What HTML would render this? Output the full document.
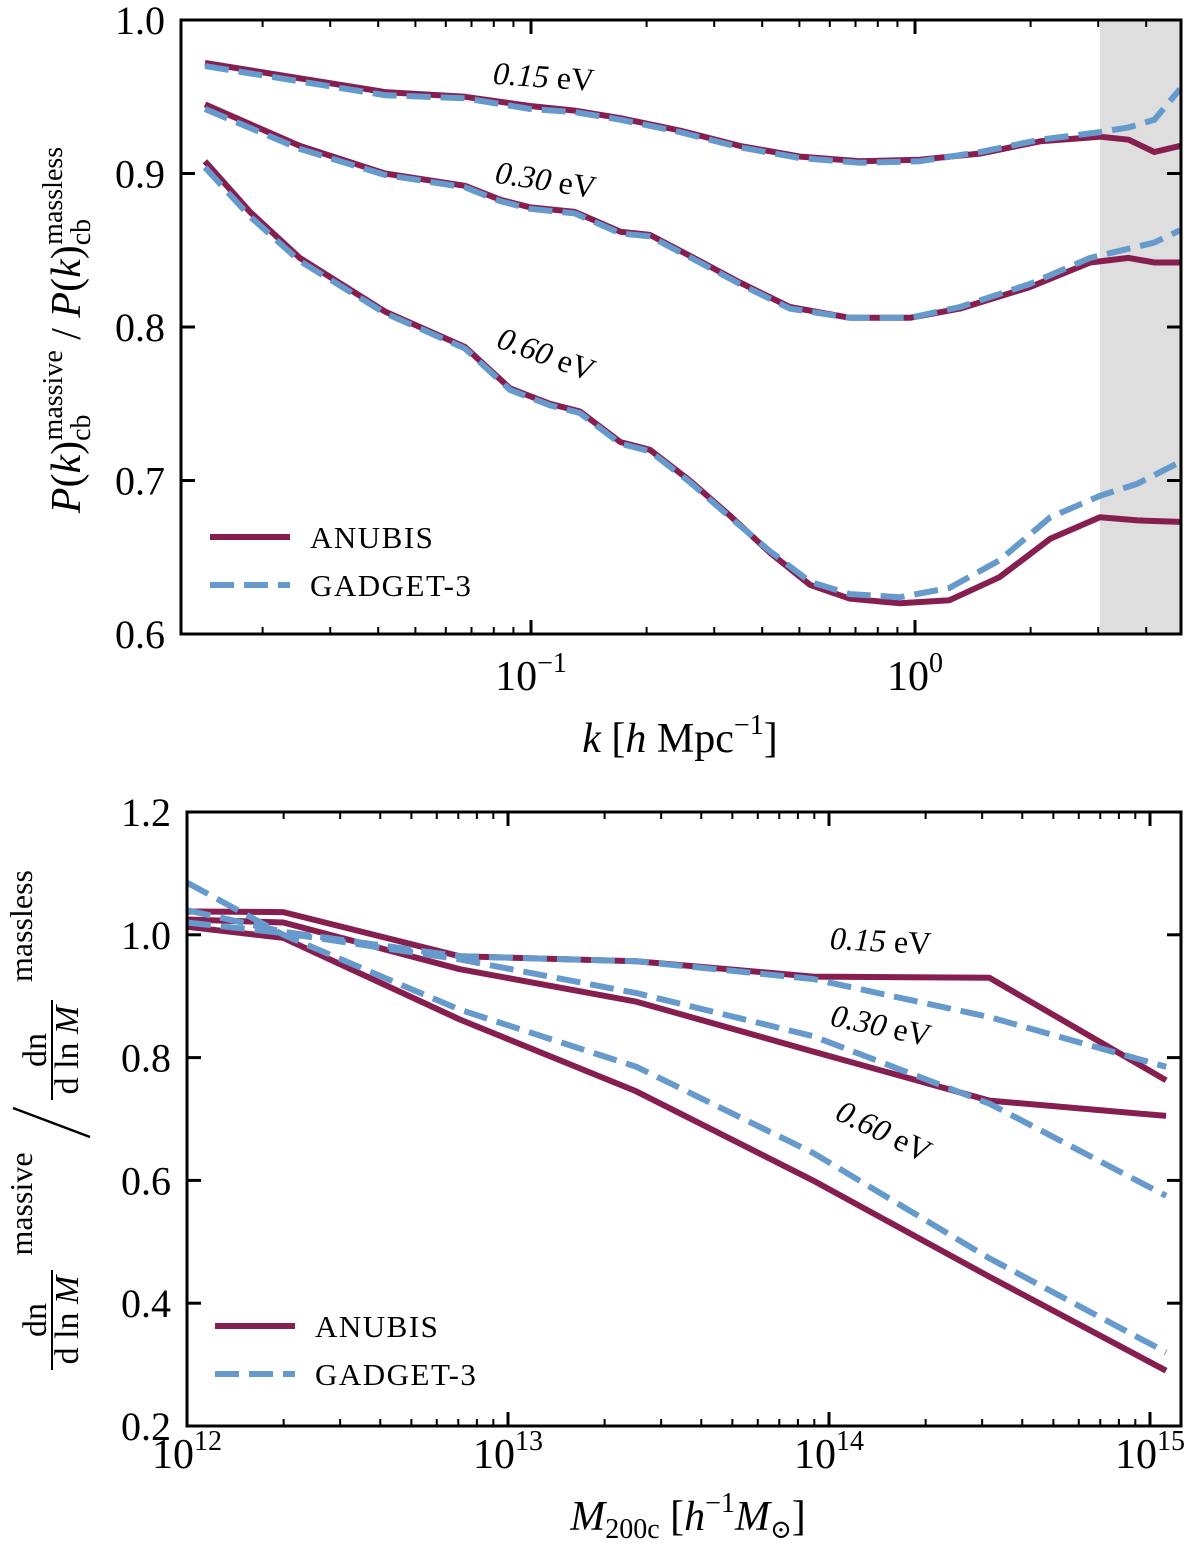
<!DOCTYPE html>
<html><head><meta charset="utf-8"><style>
html,body{margin:0;padding:0;background:#fff;}
svg{display:block;font-family:"Liberation Serif","DejaVu Serif",serif;}
</style></head><body>
<svg id="fig" width="1200" height="1565" viewBox="0 0 1200 1565" xmlns="http://www.w3.org/2000/svg">
<g id="topPanel"></g>
<g id="botPanel"></g>
</svg>
<script>
// ---- top panel data (P(k) ratio) ----
const kA15 = [0.01416,0.025,0.0417,0.0673,0.0994,0.130,0.171,0.244,0.350,0.502,0.719,1.03,1.48,2.12,3.03,3.6,4.2,4.9];
const vA15 = [0.972,0.962,0.953,0.950,0.944,0.941,0.936,0.928,0.918,0.911,0.908,0.909,0.913,0.921,0.924,0.922,0.914,0.918];
const vG15 = [0.970,0.960,0.951,0.949,0.942,0.940,0.935,0.927,0.917,0.910,0.907,0.908,0.914,0.922,0.927,0.930,0.935,0.955];
const kA30 = [0.01416,0.025,0.0417,0.0673,0.083,0.0994,0.130,0.171,0.204,0.275,0.350,0.472,0.677,0.970,1.31,1.99,2.86,3.6,4.2,4.9];
const vA30 = [0.945,0.918,0.900,0.892,0.883,0.878,0.875,0.862,0.860,0.843,0.829,0.813,0.806,0.806,0.812,0.826,0.842,0.845,0.842,0.842];
const vG30 = [0.942,0.916,0.899,0.891,0.882,0.877,0.874,0.861,0.859,0.842,0.828,0.812,0.806,0.806,0.813,0.828,0.845,0.851,0.855,0.863];
const kA60 = [0.01416,0.01854,0.025,0.0417,0.0673,0.0882,0.112,0.134,0.171,0.204,0.259,0.330,0.419,0.533,0.677,0.914,1.23,1.66,2.25,3.03,3.8,4.9];
const vA60 = [0.908,0.875,0.845,0.810,0.787,0.760,0.750,0.745,0.725,0.720,0.700,0.677,0.653,0.632,0.623,0.620,0.622,0.637,0.662,0.676,0.674,0.673];
const vG60 = [0.904,0.872,0.843,0.809,0.786,0.759,0.749,0.744,0.724,0.719,0.699,0.676,0.654,0.634,0.626,0.624,0.630,0.648,0.676,0.690,0.698,0.712];
const topYTicks = [0.6,0.7,0.8,0.9,1.0];
const topXTickExp = [-1,0];
// ---- bottom panel data (HMF ratio) ----
const lgM = [12.0,12.3,12.85,13.4,13.95,14.5,15.05];
const hA15 = [1.038,1.037,0.965,0.957,0.932,0.930,0.763];
const hG15 = [1.040,1.005,0.965,0.957,0.928,0.866,0.785];
const hA30 = [1.025,1.020,0.944,0.891,0.810,0.730,0.705];
const hG30 = [1.020,1.003,0.960,0.905,0.835,0.725,0.575];
const hA60 = [1.013,0.995,0.862,0.745,0.600,0.443,0.290];
const hG60 = [1.085,1.000,0.878,0.785,0.645,0.473,0.320];
const botYTicks = [0.2,0.4,0.6,0.8,1.0,1.2];
const botXTickExp = [12,13,14,15];

const NS="http://www.w3.org/2000/svg";
const RED="#861e50", BLUE="#6699cc";
function mk(tag,attrs,parent){const e=document.createElementNS(NS,tag);for(const k in attrs)e.setAttribute(k,attrs[k]);parent.appendChild(e);return e;}

const T={x0:181,x1:1181,y0:20,y1:634};
const txs=k=>915+384*Math.log10(k);
const tys=v=>634-(v-0.6)/0.4*614;
const B={x0:187,x1:1181,y0:812,y1:1426};
const bxs=l=>187+(l-12)*321;
const bys=v=>1426-(v-0.2)/1.0*614;

const topG=document.getElementById('topPanel'), botG=document.getElementById('botPanel');

const band=mk('rect',{x:txs(3.03),y:T.y0,width:T.x1-txs(3.03),height:T.y1-T.y0,fill:'#dedede'},topG);



function line(parent,xs,ys,color,dash,name){
  const d=xs.map((x,i)=>(i?'L':'M')+x.toFixed(1)+' '+ys[i].toFixed(1)).join(' ');
  const p=mk('path',{d:d,fill:'none',stroke:color,'stroke-width':6,'stroke-linejoin':'round'},parent);
  if(dash)p.setAttribute('stroke-dasharray','24 10');
  
  
}
const topSeries=[[kA15,vA15,vG15,'015'],[kA30,vA30,vG30,'030'],[kA60,vA60,vG60,'060']];
topSeries.forEach(s=>{
  line(topG,s[0].map(txs),s[1].map(tys),RED,false,'anubis-pk-'+s[3]+'ev');
});
topSeries.forEach(s=>{
  line(topG,s[0].map(txs),s[2].map(tys),BLUE,true,'gadget-pk-'+s[3]+'ev');
});
const botSeries=[[hA15,hG15,'015'],[hA30,hG30,'030'],[hA60,hG60,'060']];
botSeries.forEach(s=>{
  line(botG,lgM.map(bxs),s[0].map(bys),RED,false,'anubis-hmf-'+s[2]+'ev');
});
botSeries.forEach(s=>{
  line(botG,lgM.map(bxs),s[1].map(bys),BLUE,true,'gadget-hmf-'+s[2]+'ev');
});

function frame(parent,A,name){
  const r=mk('rect',{x:A.x0,y:A.y0,width:A.x1-A.x0,height:A.y1-A.y0,fill:'none',stroke:'#000','stroke-width':3},parent);
  
  
}
function tick(parent,x1,y1,x2,y2,w){mk('line',{x1:x1,y1:y1,x2:x2,y2:y2,stroke:'#000','stroke-width':w},parent);}
function text(parent,x,y,str,attrs,name){
  const t=mk('text',Object.assign({x:x,y:y,'font-size':40,fill:'#000'},attrs||{}),parent);
  t.textContent=str;
  
  
  return t;
}
topYTicks.forEach(v=>{const y=tys(v);tick(topG,T.x0,y,T.x0+14,y,3);tick(topG,T.x1,y,T.x1-14,y,3);
  text(topG,T.x0-16,y+14,v.toFixed(1),{'text-anchor':'end'},'y-tick-label');});
for(let e=-2;e<=0;e++){for(let m=1;m<10;m++){const k=m*Math.pow(10,e);const x=txs(k);if(x<T.x0||x>T.x1)continue;
  const L=m===1?14:7;tick(topG,x,T.y1,x,T.y1-L,m===1?3:2);tick(topG,x,T.y0,x,T.y0+L,m===1?3:2);}}
topXTickExp.forEach(e=>{const x=txs(Math.pow(10,e));const t=text(topG,x,690,'10',{'text-anchor':'middle','font-size':42},'x-tick-label');
  const s=mk('tspan',{'font-size':28,dy:-18},t);s.textContent=(e<0?'\u2212':'')+Math.abs(e);});
botYTicks.forEach(v=>{const y=bys(v);tick(botG,B.x0,y,B.x0+14,y,3);tick(botG,B.x1,y,B.x1-14,y,3);
  text(botG,B.x0-16,y+14,v.toFixed(1),{'text-anchor':'end'},'y-tick-label');});
for(let e=12;e<=15;e++){for(let m=1;m<10;m++){const x=bxs(e+Math.log10(m));if(x<B.x0||x>B.x1)continue;
  const L=m===1?14:7;tick(botG,x,B.y1,x,B.y1-L,m===1?3:2);tick(botG,x,B.y0,x,B.y0+L,m===1?3:2);}}
botXTickExp.forEach(e=>{const x=bxs(e);const t=text(botG,x,1468,'10',{'text-anchor':'middle','font-size':42},'x-tick-label');
  const s=mk('tspan',{'font-size':28,dy:-18},t);s.textContent=e;});
frame(topG,T,'top-axes-frame');frame(botG,B,'bottom-axes-frame');

function evLabel(parent,x,y,num,rot,name){
  const t=text(parent,x,y,'',{'font-size':32,transform:'rotate('+rot+' '+(x+60)+' '+(y-10)+')'},name);
  t.innerHTML='<tspan font-style="italic">'+num+'</tspan> eV';
}
evLabel(topG,493,88,'0.15',4,'label-015ev');
evLabel(topG,495,192,'0.30',9,'label-030ev');
evLabel(topG,495,368,'0.60',20,'label-060ev');
evLabel(botG,830,952,'0.15',3,'label-015ev');
evLabel(botG,830,1038,'0.30',12,'label-030ev');
evLabel(botG,832,1146,'0.60',26,'label-060ev');

function legend(parent,x,y,name){
  const g=mk('g',{},parent);
  mk('line',{x1:x,y1:y,x2:x+80,y2:y,stroke:RED,'stroke-width':6},g);
  mk('line',{x1:x,y1:y+48,x2:x+80,y2:y+48,stroke:BLUE,'stroke-width':6,'stroke-dasharray':'24 10'},g);
  text(g,x+100,y+11,'ANUBIS',{'font-size':31,'letter-spacing':'1.5'},'legend-anubis');
  text(g,x+100,y+59,'GADGET-3',{'font-size':31,'letter-spacing':'1.5'},'legend-gadget');
}
legend(topG,210,537,'top-legend');
legend(botG,215,1326,'bottom-legend');

const xt=text(topG,680,752,'',{'text-anchor':'middle','font-size':42},'x-axis-title-k');
xt.innerHTML='<tspan font-style="italic">k</tspan> [<tspan font-style="italic">h</tspan> Mpc<tspan font-size="28" dy="-18">\u22121</tspan><tspan dy="18">]</tspan>';
const xb=text(botG,688,1530,'',{'text-anchor':'middle','font-size':42},'x-axis-title-mass');
xb.innerHTML='<tspan font-style="italic">M</tspan><tspan font-size="28" dy="8">200c</tspan><tspan dy="-8"> [</tspan><tspan font-style="italic">h</tspan><tspan font-size="28" dy="-18">\u22121</tspan><tspan dy="18" font-style="italic">M</tspan><tspan font-size="26" dy="8">\u2299</tspan><tspan dy="-8">]</tspan>';
const yt=text(topG,0,0,'',{'text-anchor':'middle','font-size':42,transform:'translate(80 330) rotate(-90)'},'y-axis-title-pk');
yt.innerHTML='<tspan font-style="italic">P</tspan>(<tspan font-style="italic">k</tspan>)<tspan font-size="28" dy="10">cb</tspan><tspan font-size="28" dx="-26" dy="-28">massive</tspan><tspan dy="18"> / </tspan><tspan font-style="italic">P</tspan>(<tspan font-style="italic">k</tspan>)<tspan font-size="28" dy="10">cb</tspan><tspan font-size="28" dx="-26" dy="-28">massless</tspan>';
const yb=mk('g',{},botG);


function frac(cx,cy){
  text(yb,0,0,'dn',{'text-anchor':'middle','font-size':34,transform:'translate('+(cx-4)+' '+cy+') rotate(-90)'},'frac-num');
  mk('line',{x1:cx+2,y1:cy-50,x2:cx+2,y2:cy+50,stroke:'#000','stroke-width':2},yb);
  const d=text(yb,0,0,'',{'text-anchor':'middle','font-size':34,transform:'translate('+(cx+28)+' '+cy+') rotate(-90)'},'frac-den');
  d.innerHTML='d ln <tspan font-style="italic">M</tspan>';
}
frac(50,1320);
text(yb,0,0,'massive',{'text-anchor':'middle','font-size':32,transform:'translate(32 1204) rotate(-90)'},'sup-massive');
mk('line',{x1:13,y1:1108,x2:90,y2:1137,stroke:'#000','stroke-width':2.5},yb);
frac(50,1050);
text(yb,0,0,'massless',{'text-anchor':'middle','font-size':32,transform:'translate(32 926) rotate(-90)'},'sup-massless');
</script>
</body></html>
